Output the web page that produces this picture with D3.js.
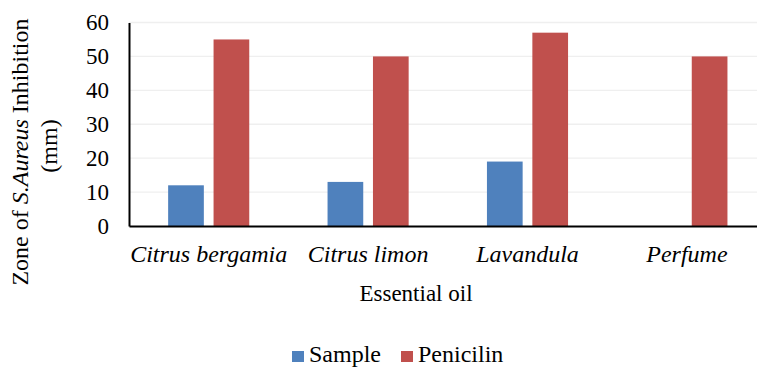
<!DOCTYPE html>
<html><head><meta charset="utf-8">
<script src="https://cdn.jsdelivr.net/npm/d3@7"></script>
</head><body style="margin:0;background:#fff">
<svg id="c" width="757" height="367" style="display:block;font-family:'Liberation Serif'"></svg>
<script>
const categories = ["Citrus bergamia","Citrus limon","Lavandula","Perfume"];
const seriesNames = ["Sample","Penicilin"];
const sampleValues = [12,13,19,0];
const penicilinValues = [55,50,57,50];
const yTicks = [0,10,20,30,40,50,60];
const colors = ["#4F81BD","#C0504D"];
const FONT = '"Liberation Serif"';

const svg = d3.select("#c");
const L = 129, R = 766.6, T = 22.5, B = 226;
const x0 = d3.scaleBand().domain(categories).range([L,R]).padding(0);
const x1 = d3.scaleBand().domain(seriesNames).range([0,x0.bandwidth()]).paddingInner(0.214).paddingOuter(0.862);
const y = d3.scaleLinear().domain([0,60]).range([B,T]);

svg.append("g").selectAll("line").data(yTicks.filter(d=>d>0)).join("line")
  .attr("x1",L).attr("x2",757).attr("y1",d=>y(d)).attr("y2",d=>y(d))
  .attr("stroke","#efefef").attr("stroke-width",1.3);

const data = categories.map((c,i)=>({c, vals:[sampleValues[i],penicilinValues[i]]}));
const g = svg.append("g").selectAll("g").data(data).join("g")
  .attr("transform",d=>`translate(${x0(d.c)},0)`);
g.selectAll("rect").data(d=>d.vals.map((v,j)=>({s:seriesNames[j],v,j}))).join("rect")
  .attr("x",d=>x1(d.s)).attr("width",x1.bandwidth())
  .attr("y",d=>y(d.v)).attr("height",d=>B-y(d.v))
  .attr("fill",d=>colors[d.j]);

const yAxis = d3.axisLeft(y).tickValues(yTicks).tickSize(0).tickPadding(20);
const ya = svg.append("g").attr("transform",`translate(${L},0)`).call(yAxis)
  .attr("font-family",null).attr("font-size",null);
ya.select(".domain").attr("stroke","#000").attr("stroke-width",2);
ya.selectAll("text").style("font-size","23px").style("font-family",FONT).attr("fill","#000");

const xAxis = d3.axisBottom(x0).tickSize(0).tickPadding(19);
const xa = svg.append("g").attr("transform",`translate(0,${B})`).call(xAxis)
  .attr("font-family",null).attr("font-size",null);
xa.select(".domain").attr("stroke","#000").attr("stroke-width",2);
xa.selectAll("text").style("font-size","24px").style("font-style","italic").style("font-family",FONT).attr("fill","#000");

svg.append("text").attr("x",416).attr("y",301).attr("text-anchor","middle")
  .style("font-size","23px").style("font-family",FONT).text("Essential oil");
const yt = svg.append("text").attr("transform","translate(28,152) rotate(-90)")
  .attr("text-anchor","middle").style("font-size","24px").style("font-family",FONT);
yt.append("tspan").text("Zone of  ");
yt.append("tspan").style("font-style","italic").text("S.Aureus");
yt.append("tspan").text(" Inhibition");
svg.append("text").attr("transform","translate(57,146) rotate(-90)")
  .attr("text-anchor","middle").style("font-size","24px").style("font-family",FONT).text("(mm)");

const lg = svg.append("g");
const legX = [292, 401];
seriesNames.forEach((s,i)=>{
  lg.append("rect").attr("x",legX[i]).attr("y",351).attr("width",12).attr("height",11).attr("fill",colors[i]);
  lg.append("text").attr("x",legX[i]+17).attr("y",362).style("font-size","24px").style("font-family",FONT).text(s);
});
</script>
</body></html>
